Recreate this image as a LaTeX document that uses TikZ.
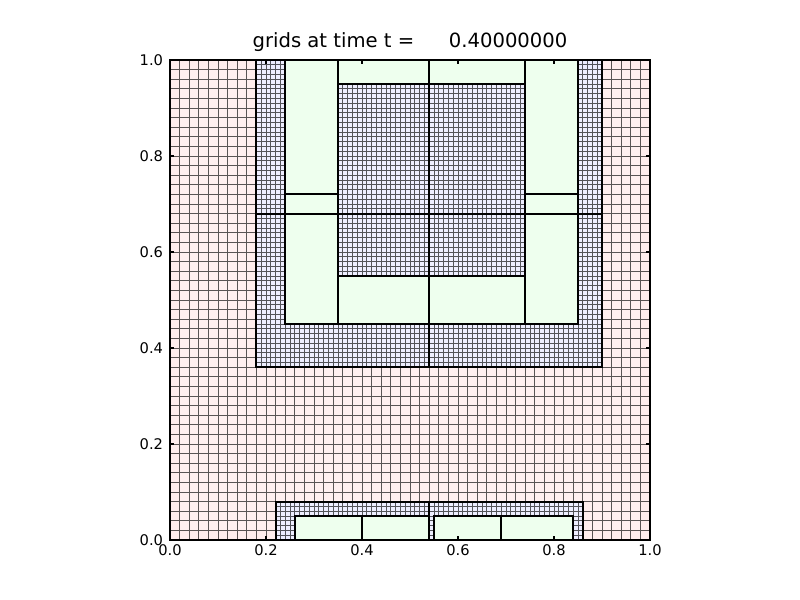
\documentclass[tikz,border=0pt]{standalone}
\usepackage{fontspec}
\setmainfont{DejaVu Sans}
\definecolor{lvlone}{RGB}{255,238,238}
\definecolor{lvltwo}{RGB}{238,238,255}
\definecolor{lvlthree}{RGB}{238,255,238}
\tikzset{
  gridline/.style={line width=0.55pt, draw=black, draw opacity=0.65},
  patchedge/.style={line width=1.4pt, draw=black},
  frameline/.style={line width=0.8pt, draw=black},
  ticklabel/.style={inner sep=0pt, font=\fontsize{11}{13}\selectfont},
  titlelabel/.style={inner sep=0pt, font=\fontsize{14.7}{17}\selectfont},
}
\begin{document}
\begin{tikzpicture}[x=3.6pt,y=3.6pt]
\useasboundingbox (-35.4167,-12.5) rectangle (131.25,112.5);
% level 1
\fill[lvlone] (0,0) rectangle (100,100);
\draw[gridline, step=2] (0,0) grid (100,100);
% level 2
\foreach \a/\b/\c/\d in {18/36/54/68, 54/36/90/68, 18/68/54/100, 54/68/90/100, 22/0/54/8, 54/0/86/8} {
  \fill[lvltwo] (\a,\b) rectangle (\c,\d);
  \draw[gridline, step=1] (\a,\b) grid (\c,\d);
}
\foreach \a/\b/\c/\d in {18/36/54/68, 54/36/90/68, 18/68/54/100, 54/68/90/100, 22/0/54/8, 54/0/86/8} {
  \draw[patchedge] (\a,\b) rectangle (\c,\d);
}
% level 3
\foreach \a/\b/\c/\d in {24/72/35/100, 24/68/35/72, 24/45/35/68, 35/95/54/100, 54/95/74/100, 74/72/85/100, 74/68/85/72, 74/45/85/68, 35/45/54/55, 54/45/74/55, 26/0/40/5, 40/0/54/5, 55/0/69/5, 69/0/84/5} {
  \fill[lvlthree] (\a,\b) rectangle (\c,\d);
}
\foreach \a/\b/\c/\d in {24/72/35/100, 24/68/35/72, 24/45/35/68, 35/95/54/100, 54/95/74/100, 74/72/85/100, 74/68/85/72, 74/45/85/68, 35/45/54/55, 54/45/74/55, 26/0/40/5, 40/0/54/5, 55/0/69/5, 69/0/84/5} {
  \draw[patchedge] (\a,\b) rectangle (\c,\d);
}
% frame and ticks
\draw[frameline] (0,0) rectangle (100,100);
\foreach \v/\t in {0/0.0, 20/0.2, 40/0.4, 60/0.6, 80/0.8, 100/1.0} {
  \draw[frameline] (\v,0) -- (\v,0.93);
  \draw[frameline] (\v,100) -- (\v,99.07);
  \draw[frameline] (0,\v) -- (0.93,\v);
  \draw[frameline] (100,\v) -- (99.07,\v);
  \node[ticklabel, anchor=north] (xl\v) at (\v,-1.0) {\t};
  \node[ticklabel, anchor=east] (yl\v) at (-1.4,\v) {\t};
}
\node[titlelabel, anchor=base] (title) at (50,102.7) {grids at time t =\hspace{26pt}0.40000000};
\end{tikzpicture}
\end{document}
